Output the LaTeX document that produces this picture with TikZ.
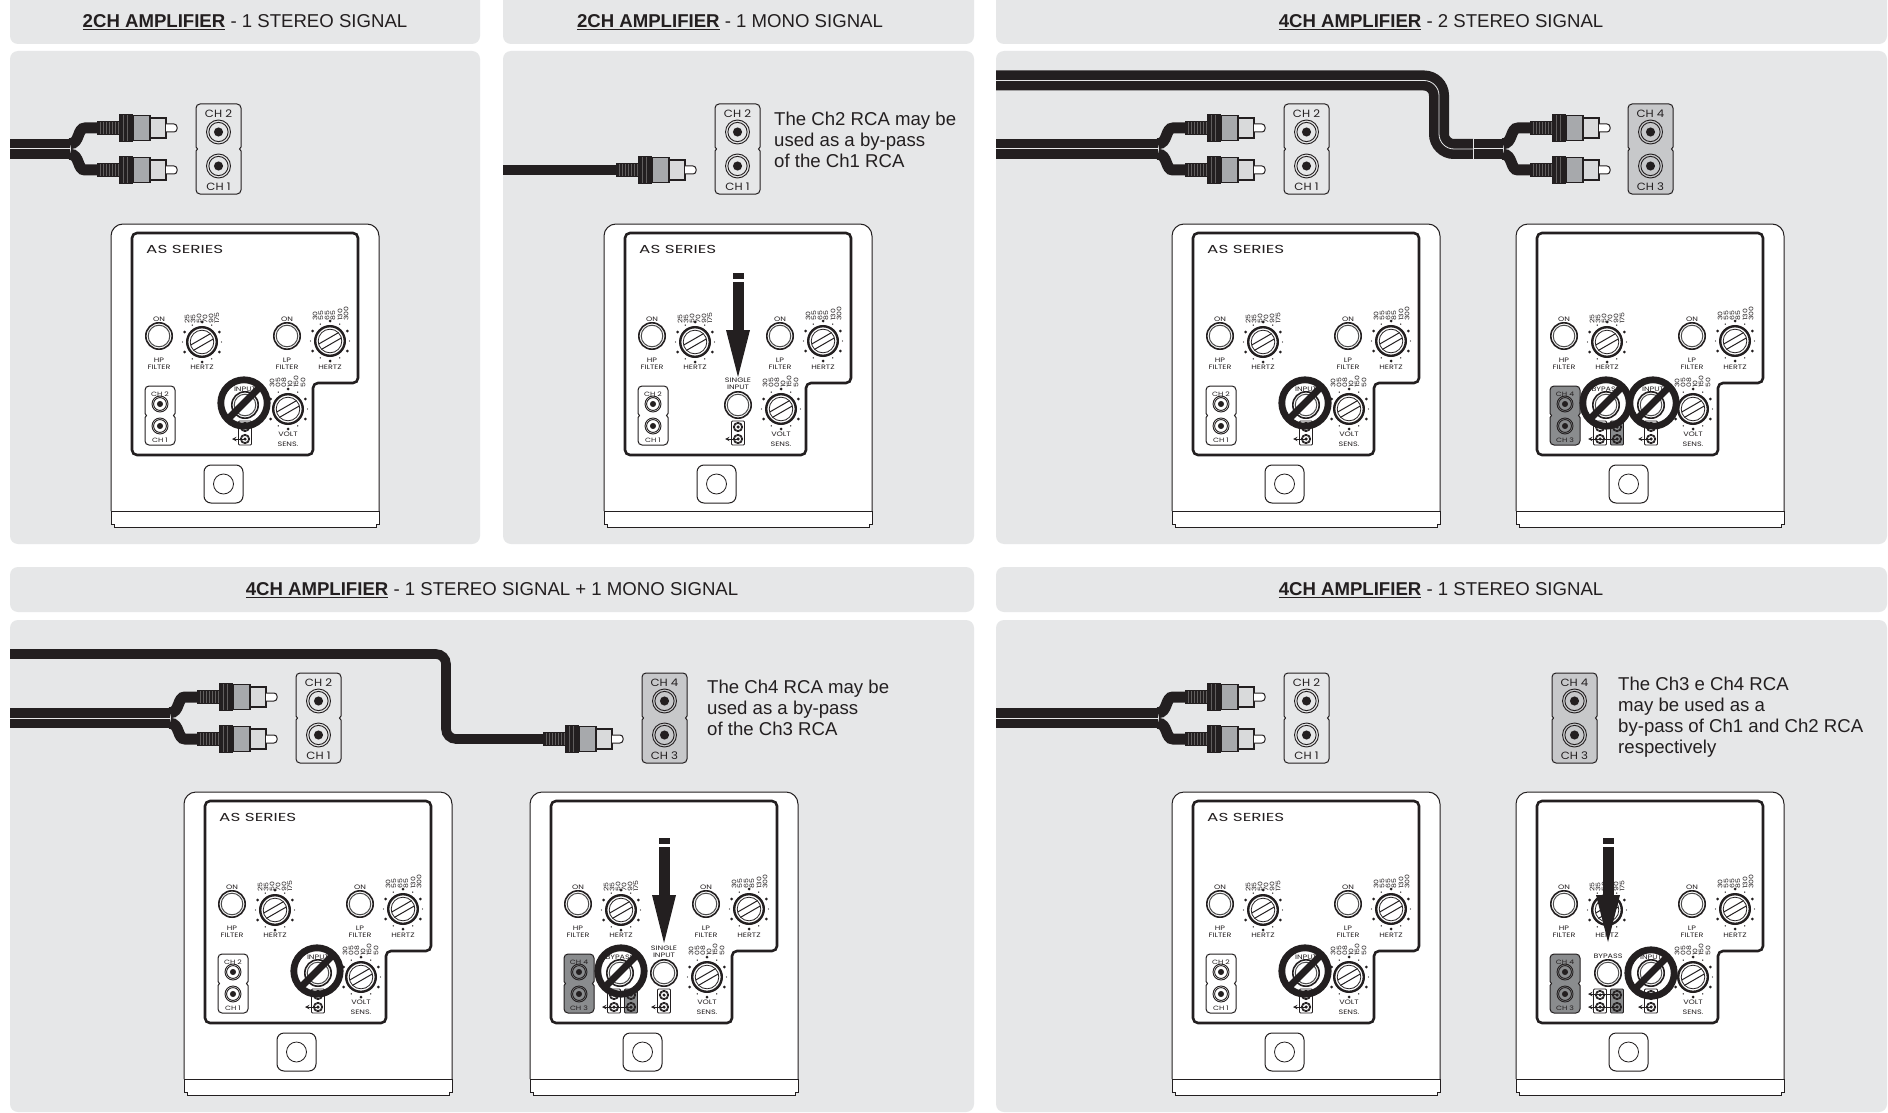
\documentclass[tikz,border=0pt]{standalone}
\usepackage{fontspec}
\setmainfont{Liberation Sans}
\newfontfamily\widefont[FakeStretch=1.25]{Poppins}
\newfontfamily\chfont[FakeStretch=1.12]{Poppins}
\newfontfamily\seriesfont[FakeStretch=1.45]{Poppins}
\definecolor{panelbg}{HTML}{E6E7E8}
\definecolor{ink}{HTML}{231F20}
\definecolor{boxgray}{HTML}{C7C8CA}
\definecolor{darkbox}{HTML}{8A8C8E}
\definecolor{plugmid}{HTML}{A7A9AC}
\definecolor{pluglight}{HTML}{D9DADB}
\tikzset{
  panelshape/.style={fill=panelbg,rounded corners=8pt},
  headtext/.style={font=\fontsize{18.6}{22}\selectfont,text=ink,inner sep=0pt},
  notetext/.style={font=\fontsize{18.6}{20.8}\selectfont,text=ink,inner sep=0pt,align=left,anchor=north west},
  amplbl/.style={font=\widefont\fontsize{6.4}{7}\selectfont,text=ink,inner sep=0pt},
  numlbl/.style={font=\widefont\fontsize{6.2}{7}\selectfont,text=ink,inner sep=0pt,rotate=90,anchor=west},
  chbig/.style={font=\chfont\fontsize{10.5}{12}\selectfont,text=ink,inner sep=0pt},
  chsmall/.style={font=\widefont\fontsize{6.2}{8}\selectfont,text=ink,inner sep=0pt},
  series/.style={font=\seriesfont\fontsize{11.6}{13}\selectfont,text=ink,inner sep=0pt,anchor=west},
  cable/.style={draw=ink,line width=9.6pt},
  branch/.style={draw=ink,line width=11pt},
  dblcable/.style={draw=ink,line width=20pt,rounded corners=15pt},
  hairline/.style={draw=#1,line width=0.8pt},
  signline/.style={draw=ink,line width=6.8pt},
}
% jack with rings
\newcommand\JackC[3]{% x y r
  \draw[ink,line width=.9pt] (#1,#2) circle[radius=#3];
  \draw[ink,line width=.9pt] (#1,#2) circle[radius=.8*#3];
  \fill[ink] (#1,#2) circle[radius=.38*#3];}
% notched double box
\newcommand\NotchBox[5]{% x y w h fill
  \draw[ink,line width=1pt,fill=#5]
   (#1,#2+#4/2-2) [rounded corners=4pt] -- (#1,#2) -- (#1+#3,#2) [sharp corners] -- (#1+#3,#2+#4/2-2)
   -- (#1+#3-1.5,#2+#4/2) -- (#1+#3,#2+#4/2+2) [rounded corners=4pt] -- (#1+#3,#2+#4) -- (#1,#2+#4)
   [sharp corners] -- (#1,#2+#4/2+2) -- (#1+1.5,#2+#4/2) -- cycle;}
% large socket panel
\newcommand\BigBox[6]{% id x fill top bottom y
  \begin{scope}[shift={(#2,#6)},name prefix=#1-]
  \NotchBox{0}{0}{45}{90}{#3}
  \node[chbig] (top) at (22.5,9.5) {#4};
  \node[chbig] (bot) at (22.5,83) {#5};
  \JackC{22.5}{28}{12}
  \JackC{22.5}{62}{12}
  \end{scope}}
% RCA plug
\newcommand\Plug[3]{% name x y
  \coordinate (#1) at (#2,#3);
  \begin{scope}[shift={(#2,#3)}]
   \fill[ink] (0,-7) rectangle (22,7);
   \foreach \k in {3,6,...,21} \draw[ink!72!white,line width=.4pt] (\k,-6) -- (\k,6);
   \fill[ink] (22,-14) rectangle (36,14);
   \foreach \k in {26,30} \draw[ink!72!white,line width=.4pt] (\k,-13) -- (\k,13);
   \draw[ink,line width=1.2pt,fill=plugmid] (36,-12.5) rectangle (53,12.5);
   \draw[ink,line width=1.1pt,fill=pluglight] (53,-10) rectangle (69,10);
   \draw[ink,line width=1pt,fill=white,rounded corners=3pt] (69,-4) -- (80,-4) -- (80,4) -- (69,4);
  \end{scope}}
% stereo pair: name, cable start x, plug x, centre y
\newcommand\Stereo[4]{%
  \coordinate (#1-s1) at (#2,#4-5.3);
  \coordinate (#1-s2) at (#2,#4+5.3);
  \coordinate (#1-k1) at (#3-27,#4-5.3);
  \coordinate (#1-k2) at (#3-27,#4+5.3);
  \coordinate (#1-e1) at (#3-12,#4-21);
  \coordinate (#1-e2) at (#3-12,#4+21);
  \Plug{#1-a}{#3}{#4-21}
  \Plug{#1-b}{#3}{#4+21}
  \draw[branch] (#1-k1) .. controls +(10,0) and +(-8,0) .. (#1-e1) -- ([xshift=1pt]#1-a);
  \draw[branch] (#1-k2) .. controls +(10,0) and +(-8,0) .. (#1-e2) -- ([xshift=1pt]#1-b);
  \draw[cable] (#1-s1) -- (#1-k1);
  \draw[cable] (#1-s2) -- (#1-k2);}
% 1/4 inch plug arrow
\newcommand\BigPlug[3]{% x top tip
  \fill[ink] (#1-5.5,#2) rectangle (#1+5.5,#2+6);
  \fill[ink] (#1-5.5,#2+9) rectangle (#1+5.5,#2+58);
  \fill[ink] (#1-12,#2+57) -- (#1+12,#2+57) -- (#1,#3) -- cycle;}
% rotary knob
\newcommand\Knob[2]{%
  \begin{scope}[shift={(#1,#2)}]
   \foreach \a in {90,30,-30,-90,210,150} \fill[ink] (\a:20) circle[radius=1.5];
   \foreach \a in {60,0,-60,120,180,240} \fill[ink] (\a:19.5) circle[radius=.7];
   \draw[ink,line width=2.4pt,fill=white] (0,0) circle[radius=14.8];
   \draw[ink,line width=.8pt] (0,0) circle[radius=11.8];
   \draw[ink,line width=1pt] (-8.5,8.35) -- (11.5,-3.15);
   \draw[ink,line width=1pt] (-11.5,3.15) -- (8.5,-8.35);
  \end{scope}}
% push button
\newcommand\Btn[2]{%
  \draw[ink,line width=1.6pt,fill=white] (#1,#2) circle[radius=13.2];
  \draw[black!70,line width=1pt] (#1,#2) circle[radius=10.8];}
% prohibited mark
\newcommand\NoSign[2]{%
  \draw[signline] (#1,#2) circle[radius=23.2];
  \draw[signline] (#1-17,#2+17) -- (#1+17,#2-17);}
% small jack column
\newcommand\JackCol[3]{% x fill lineflag
  \draw[ink,line width=.9pt,fill=#2,rounded corners=1pt] (#1-6.5,197) rectangle (#1+6.5,221);
  \JackC{#1}{203}{4.6}
  \JackC{#1}{215}{4.6}}
\newcommand\LeftLead[3]{% from x, to x, y
  \draw[ink,line width=1pt,-stealth] (#2,#3) -- (#1,#3);}
% amplifier
\newcommand\AmpAt[7]{% name x y chfill chtop chbot extras
 \begin{scope}[shift={(#2,#3)},name prefix=#1-]
  \draw[ink,line width=1pt,fill=white,rounded corners=12pt] (0,287) -- (0,0) -- (268,0) -- (268,287);
  \draw[ink,line width=1pt,fill=white] (0,287) -- (0,300) -- (3,300) -- (3,303) -- (265,303) -- (265,300) -- (268,300) -- (268,287) -- cycle;
  \draw[ink,line width=2.6pt,rounded corners=5pt] (21,9) -- (247,9) -- (247,159) -- (202,159) -- (202,231) -- (21,231) -- cycle;
  \node[amplbl] (on1) at (48,95) {ON};
  \node[amplbl,align=center] (hp) at (48,140) {HP\\[-.5pt]FILTER};
  \node[amplbl] (hz1) at (91,143) {HERTZ};
  \node[amplbl] (on2) at (176,95) {ON};
  \node[amplbl,align=center] (lp) at (176,140) {LP\\[-.5pt]FILTER};
  \node[amplbl] (hz2) at (219,143) {HERTZ};
  \node[amplbl] (volt) at (177,210) {VOLT};
  \node[amplbl] (sens) at (177,220) {SENS.};
  \foreach \xx/\t in {76/25,82/35,88/50,94/70,100/90,106/175} \node[numlbl] (hpn\xx) at (\xx,100) {\t};
  \foreach \xx/\t in {204/30,210/55,216/65,222/85,229/130,235/300} \node[numlbl] (lpn\xx) at (\xx,97) {\t};
  \foreach \xx/\t in {161/30,167/05,173/08,179/10,185/150,192/50} \node[numlbl] (sn\xx) at (\xx,164) {\t};
  \Btn{48}{112}
  \Btn{176}{112}
  \Knob{91}{118}
  \Knob{219}{117}
  \Knob{177}{185}
  \NotchBox{34}{162}{30}{59}{#4}
  \node[chsmall] (cht) at (49,170) {#5};
  \node[chsmall] (chb) at (49,216) {#6};
  \JackC{49}{180}{8}
  \JackC{49}{202}{8}
  \draw[ink,line width=1pt,rounded corners=7pt,fill=white] (93,241) rectangle (132,279);
  \draw[ink,line width=.8pt] (112.5,260) circle[radius=10];
  #7
 \end{scope}}
% common extra blocks
\newcommand\SeriesName{\node[series] (title) at (35,25) {AS SERIES};}
\newcommand\StdInput{%
  \SeriesName
  \node[amplbl] (inp) at (134,165) {INPUT};
  \Btn{134}{181}
  \JackCol{134}{white}{}
  \LeftLead{121}{134}{215}
  \NoSign{133}{179}}
\newcommand\SingleInput{%
  \node[amplbl,align=center] (single) at (134,160) {SINGLE\\[-.5pt]INPUT};
  \Btn{134}{181}
  \JackCol{134}{white}{}
  \LeftLead{121}{134}{215}}
\newcommand\NoteTxt[4]{\node[notetext] (#1) at (#2,#3) {#4};}
\begin{document}
\begin{tikzpicture}[x=1pt,y=-1pt]
\useasboundingbox (0,0) rectangle (1888,1113);
\fill[white] (0,0) rectangle (1888,1113);
% panels
\path[panelshape] (10,-20) rectangle (480,44);
\path[panelshape] (503,-20) rectangle (974,44);
\path[panelshape] (996,-20) rectangle (1887,44);
\path[panelshape] (10,51) rectangle (480,544);
\path[panelshape] (503,51) rectangle (974,544);
\path[panelshape] (996,51) rectangle (1887,544);
\path[panelshape] (10,567) rectangle (974,612);
\path[panelshape] (996,567) rectangle (1887,612);
\path[panelshape] (10,620) rectangle (974,1112);
\path[panelshape] (996,620) rectangle (1887,1112);
% headers
\node[headtext] (h1) at (245,22) {\textbf{\underline{2CH AMPLIFIER}} - 1 STEREO SIGNAL};
\node[headtext] (h2) at (730,22) {\textbf{\underline{2CH AMPLIFIER}} - 1 MONO SIGNAL};
\node[headtext] (h3) at (1441,22) {\textbf{\underline{4CH AMPLIFIER}} - 2 STEREO SIGNAL};
\node[headtext] (h4) at (492,590.5) {\textbf{\underline{4CH AMPLIFIER}} - 1 STEREO SIGNAL + 1 MONO SIGNAL};
\node[headtext] (h5) at (1441,590.5) {\textbf{\underline{4CH AMPLIFIER}} - 1 STEREO SIGNAL};
% panel 1
\Stereo{c1}{10}{97}{149}
\BigBox{b1}{196}{panelbg}{CH 2}{CH 1}{104}
\AmpAt{a1}{111}{224}{white}{CH 2}{CH 1}{\StdInput}
% panel 2
\coordinate (c2s) at (503,170);
\Plug{c2}{616}{170}
\draw[cable] (c2s) -- ([xshift=1pt]c2);
\BigBox{b2}{715}{panelbg}{CH 2}{CH 1}{104}
\NoteTxt{t2}{774}{112}{The Ch2 RCA may be\\used as a by-pass\\of the Ch1 RCA}
\AmpAt{a2}{604}{224}{white}{CH 2}{CH 1}{\SeriesName\SingleInput\BigPlug{134}{49}{153}}
% panel 3
\Stereo{c3}{996}{1185}{149}
\BigBox{b3}{1284}{panelbg}{CH 2}{CH 1}{104}
\AmpAt{a3}{1172}{224}{white}{CH 2}{CH 1}{\StdInput}
\coordinate (c4s) at (996,80.5);
\coordinate (c4m1) at (1439,80.5);
\coordinate (c4m2) at (1439,149);
\coordinate (c4j) at (1473,149);
\Stereo{c4}{1472}{1530}{149}
\draw[dblcable] (c4s) -- (c4m1) -- (c4m2) -- (c4j);
\draw[hairline=panelbg,rounded corners=15pt] (c4s) -- (c4m1) -- (c4m2) -- (c4j);
\draw[hairline=panelbg,line width=.3pt] (1473,139) -- (1473,159);
\BigBox{b4}{1628}{boxgray}{CH 4}{CH 3}{104}
\AmpAt{a4}{1516}{224}{darkbox}{CH 4}{CH 3}{%
  \node[amplbl] (byp) at (90,165) {BYPASS};
  \node[amplbl] (inp) at (137,165) {INPUT};
  \Btn{90}{181}\Btn{135}{181}
  \JackCol{84}{white}{}\JackCol{101}{darkbox}{}\JackCol{135}{white}{}
  \LeftLead{72}{101}{215}\LeftLead{122}{135}{215}
  \NoSign{90}{179}\NoSign{137}{179}}
% panel 4
\Stereo{c5}{10}{197}{718}
\BigBox{b5}{296}{panelbg}{CH 2}{CH 1}{673}
\coordinate (c6s) at (10,654);
\coordinate (c6m1) at (446,654);
\coordinate (c6m2) at (446,739);
\Plug{c6}{543}{739}
\draw[cable,rounded corners=10pt] (c6s) -- (c6m1) -- (c6m2) -- ([xshift=1pt]c6);
\BigBox{b6}{642}{boxgray}{CH 4}{CH 3}{673}
\NoteTxt{t4}{707}{680}{The Ch4 RCA may be\\used as a by-pass\\of the Ch3 RCA}
\AmpAt{a5}{184}{792}{white}{CH 2}{CH 1}{\StdInput}
\AmpAt{a6}{530}{792}{darkbox}{CH 4}{CH 3}{%
  \node[amplbl] (byp) at (90,165) {BYPASS};
  \Btn{90}{181}
  \JackCol{84}{white}{}\JackCol{101}{darkbox}{}
  \LeftLead{72}{101}{215}
  \NoSign{91}{179}
  \SingleInput\BigPlug{134}{46}{151}}
% panel 5
\Stereo{c7}{996}{1185}{718}
\BigBox{b7}{1284}{panelbg}{CH 2}{CH 1}{673}
\BigBox{b8}{1552}{boxgray}{CH 4}{CH 3}{673}
\NoteTxt{t5}{1618}{677}{The Ch3 e Ch4 RCA\\may be used as a\\by-pass of Ch1 and Ch2 RCA\\respectively}
\AmpAt{a7}{1172}{792}{white}{CH 2}{CH 1}{\StdInput}
\AmpAt{a8}{1516}{792}{darkbox}{CH 4}{CH 3}{%
  \node[amplbl] (byp) at (92,164) {BYPASS};
  \node[amplbl] (inp) at (135,165) {INPUT};
  \Btn{92}{181}\Btn{135}{181}
  \JackCol{84}{white}{}\JackCol{101}{darkbox}{}\JackCol{135}{white}{}
  \LeftLead{72}{101}{202}\LeftLead{72}{101}{215}\LeftLead{122}{135}{215}
  \NoSign{135}{181}
  \BigPlug{92}{46}{150}}
\end{tikzpicture}
\end{document}
